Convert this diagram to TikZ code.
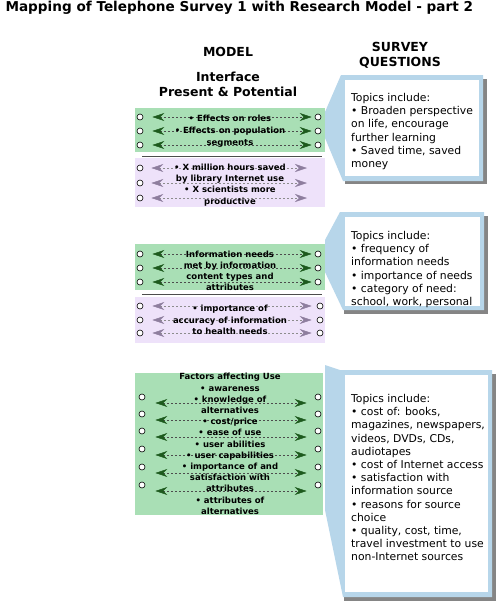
\documentclass[tikz,border=0pt]{standalone}
\usepackage{fontspec}
\setmainfont{DejaVu Sans}
\usetikzlibrary{arrows.meta}

\definecolor{vertclair}{HTML}{A9DFB5}
\definecolor{vertfonce}{HTML}{1D5A1D}
\definecolor{mauveclair}{HTML}{EEE2FA}
\definecolor{mauvefonce}{HTML}{8E7E9E}
\definecolor{bleuclair}{HTML}{B7D6EA}
\definecolor{ombre}{HTML}{858585}

\begin{document}
\begin{tikzpicture}[x=1pt, y=-1pt,
    port/.style={circle, draw, fill=white, inner sep=0pt, minimum size=6pt, line width=0.6pt},
    lienvert/.style={draw=black!70, dash pattern=on 2pt off 2pt, line width=0.5pt,
        {Stealth[length=12pt, width=8pt, inset=4pt, color=vertfonce]}-{Stealth[length=12pt, width=8pt, inset=4pt, color=vertfonce]}},
    lienmauve/.style={draw=black!45, dash pattern=on 2pt off 2pt, line width=0.5pt,
        {Stealth[length=12pt, width=8pt, inset=4pt, color=mauvefonce]}-{Stealth[length=12pt, width=8pt, inset=4pt, color=mauvefonce]}},
    entete/.style={font=\bfseries\fontsize{12.5}{15}\selectfont, align=center},
    modele/.style={font=\bfseries\fontsize{8.5}{11.2}\selectfont, align=center, inner sep=0pt},
    question/.style={font=\fontsize{10.8}{13.2}\selectfont, align=left, anchor=north west, inner sep=0pt}]

    \useasboundingbox[fill=white] (0,0) rectangle (500,606);

    % Les titres
    \node (titre) [anchor=west, font=\bfseries\fontsize{13.6}{15}\selectfont] at (2,8) {Mapping of Telephone Survey 1 with Research Model - part 2};
    \node (model) [entete] at (228,52) {MODEL};
    \node (survey) [entete] at (400,55) {SURVEY\\QUESTIONS};
    \node (interface) [entete] at (228,84) {Interface\\Present \& Potential};

    % Les boites du modele
    \fill[vertclair] (135,108) rectangle (325,152);
    \draw[black!70, line width=0.8pt] (142,156) -- (322,156);
    \fill[mauveclair] (135,158) rectangle (325,207);
    \fill[vertclair] (135,244) rectangle (325,290);
    \draw[black!70, line width=0.8pt] (142,294) -- (322,294);
    \fill[mauveclair] (135,297) rectangle (325,343);
    \fill[vertclair] (135,373) rectangle (323,515);

    % Les bulles
    \fill[ombre] (345,79) rectangle (487,184);
    \fill[bleuclair] (341,75) -- (325,112) -- (325,138) -- (343,181) -- (483,181) -- (483,75) -- cycle;
    \fill[white] (345,80) rectangle (479,176);
    \fill[ombre] (344,216) rectangle (488,314);
    \fill[bleuclair] (340,212) -- (325,240) -- (325,272) -- (343,310) -- (484,310) -- (484,212) -- cycle;
    \fill[white] (345,217) rectangle (480,306);
    \fill[ombre] (344,374) rectangle (496,601);
    \fill[bleuclair] (340,370) -- (325,365) -- (325,510) -- (343,597) -- (492,597) -- (492,370) -- cycle;
    \fill[white] (345,375) rectangle (488,592);

    % Les sommets
    \node (a1) [port] at (140,117) {};
    \node (b1) [port] at (318,117) {};
    \node (a2) [port] at (140,131) {};
    \node (b2) [port] at (318,131) {};
    \node (a3) [port] at (140,145) {};
    \node (b3) [port] at (318,145) {};

    \node (c1) [port] at (140,168) {};
    \coordinate (d1) at (307,168);
    \node (c2) [port] at (140,183) {};
    \coordinate (d2) at (307,183);
    \node (c3) [port] at (140,198) {};
    \coordinate (d3) at (307,198);

    \node (e1) [port] at (140,254) {};
    \node (f1) [port] at (318,254) {};
    \node (e2) [port] at (140,268) {};
    \node (f2) [port] at (318,268) {};
    \node (e3) [port] at (140,282) {};
    \node (f3) [port] at (318,282) {};

    \node (g1) [port] at (140,306) {};
    \node (h1) [port] at (320,306) {};
    \node (g2) [port] at (140,320) {};
    \node (h2) [port] at (320,320) {};
    \node (g3) [port] at (140,333) {};
    \node (h3) [port] at (320,333) {};

    \node (k1) [port] at (142,397) {};
    \node (m1) [port] at (318,397) {};
    \node (k2) [port] at (142,414) {};
    \node (m2) [port] at (318,414) {};
    \node (k3) [port] at (142,431) {};
    \node (m3) [port] at (318,431) {};
    \node (k4) [port] at (142,449) {};
    \node (m4) [port] at (318,449) {};
    \node (k5) [port] at (142,467) {};
    \node (m5) [port] at (318,467) {};
    \node (k6) [port] at (142,485) {};
    \node (m6) [port] at (318,485) {};

    % Les aretes
    \draw[lienvert, shorten <=9pt, shorten >=3pt] (a1) -- (b1);
    \draw[lienvert, shorten <=9pt, shorten >=3pt] (a2) -- (b2);
    \draw[lienvert, shorten <=9pt, shorten >=3pt] (a3) -- (b3);
    \draw[lienmauve, shorten <=8pt] (c1) -- (d1);
    \draw[lienmauve, shorten <=8pt] (c2) -- (d2);
    \draw[lienmauve, shorten <=8pt] (c3) -- (d3);
    \draw[lienvert, shorten <=9pt, shorten >=3pt] (e1) -- (f1);
    \draw[lienvert, shorten <=9pt, shorten >=3pt] (e2) -- (f2);
    \draw[lienvert, shorten <=9pt, shorten >=3pt] (e3) -- (f3);
    \draw[lienmauve, shorten <=9pt, shorten >=5pt] (g1) -- (h1);
    \draw[lienmauve, shorten <=9pt, shorten >=5pt] (g2) -- (h2);
    \draw[lienmauve, shorten <=9pt, shorten >=5pt] (g3) -- (h3);
    \draw[lienvert, shorten <=10pt, shorten >=8pt] ([yshift=-6pt]k1.east) -- ([yshift=-6pt]m1.west);
    \draw[lienvert, shorten <=10pt, shorten >=8pt] ([yshift=-6pt]k2.east) -- ([yshift=-6pt]m2.west);
    \draw[lienvert, shorten <=10pt, shorten >=8pt] ([yshift=-6pt]k3.east) -- ([yshift=-6pt]m3.west);
    \draw[lienvert, shorten <=10pt, shorten >=8pt] ([yshift=-6pt]k4.east) -- ([yshift=-6pt]m4.west);
    \draw[lienvert, shorten <=10pt, shorten >=8pt] ([yshift=-6pt]k5.east) -- ([yshift=-6pt]m5.west);
    \draw[lienvert, shorten <=10pt, shorten >=8pt] ([yshift=-6pt]k6.east) -- ([yshift=-6pt]m6.west);

    % Les textes
    \node (roles) [modele, font=\bfseries\fontsize{8.5}{12}\selectfont] at (230,131) {• Effects on roles\\• Effects on population\\segments};
    \node (hours) [modele] at (230,185) {• X million hours saved\\by library Internet use\\• X scientists more\\productive};
    \node (needs) [modele] at (230,271) {Information needs\\met by information\\content types and\\attributes};
    \node (accuracy) [modele] at (230,320) {• importance of\\accuracy of information\\to health needs};
    \node (factors) [modele] at (230,444) {Factors affecting Use\\• awareness\\• knowledge of\\alternatives\\• cost/price\\• ease of use\\• user abilities\\• user capabilities\\• importance of and\\satisfaction with\\attributes\\• attributes of\\alternatives};

    \node (q1) [question] at (351,93) {Topics include:\\• Broaden perspective\\on life, encourage\\further learning\\• Saved time, saved\\money};
    \node (q2) [question] at (351,231) {Topics include:\\• frequency of\\information needs\\• importance of needs\\• category of need:\\school, work, personal};
    \node (q3) [question] at (351,394) {Topics include:\\• cost of: books,\\magazines, newspapers,\\videos, DVDs, CDs,\\audiotapes\\• cost of Internet access\\• satisfaction with\\information source\\• reasons for source\\choice\\• quality, cost, time,\\travel investment to use\\non-Internet sources};
\end{tikzpicture}
\end{document}
